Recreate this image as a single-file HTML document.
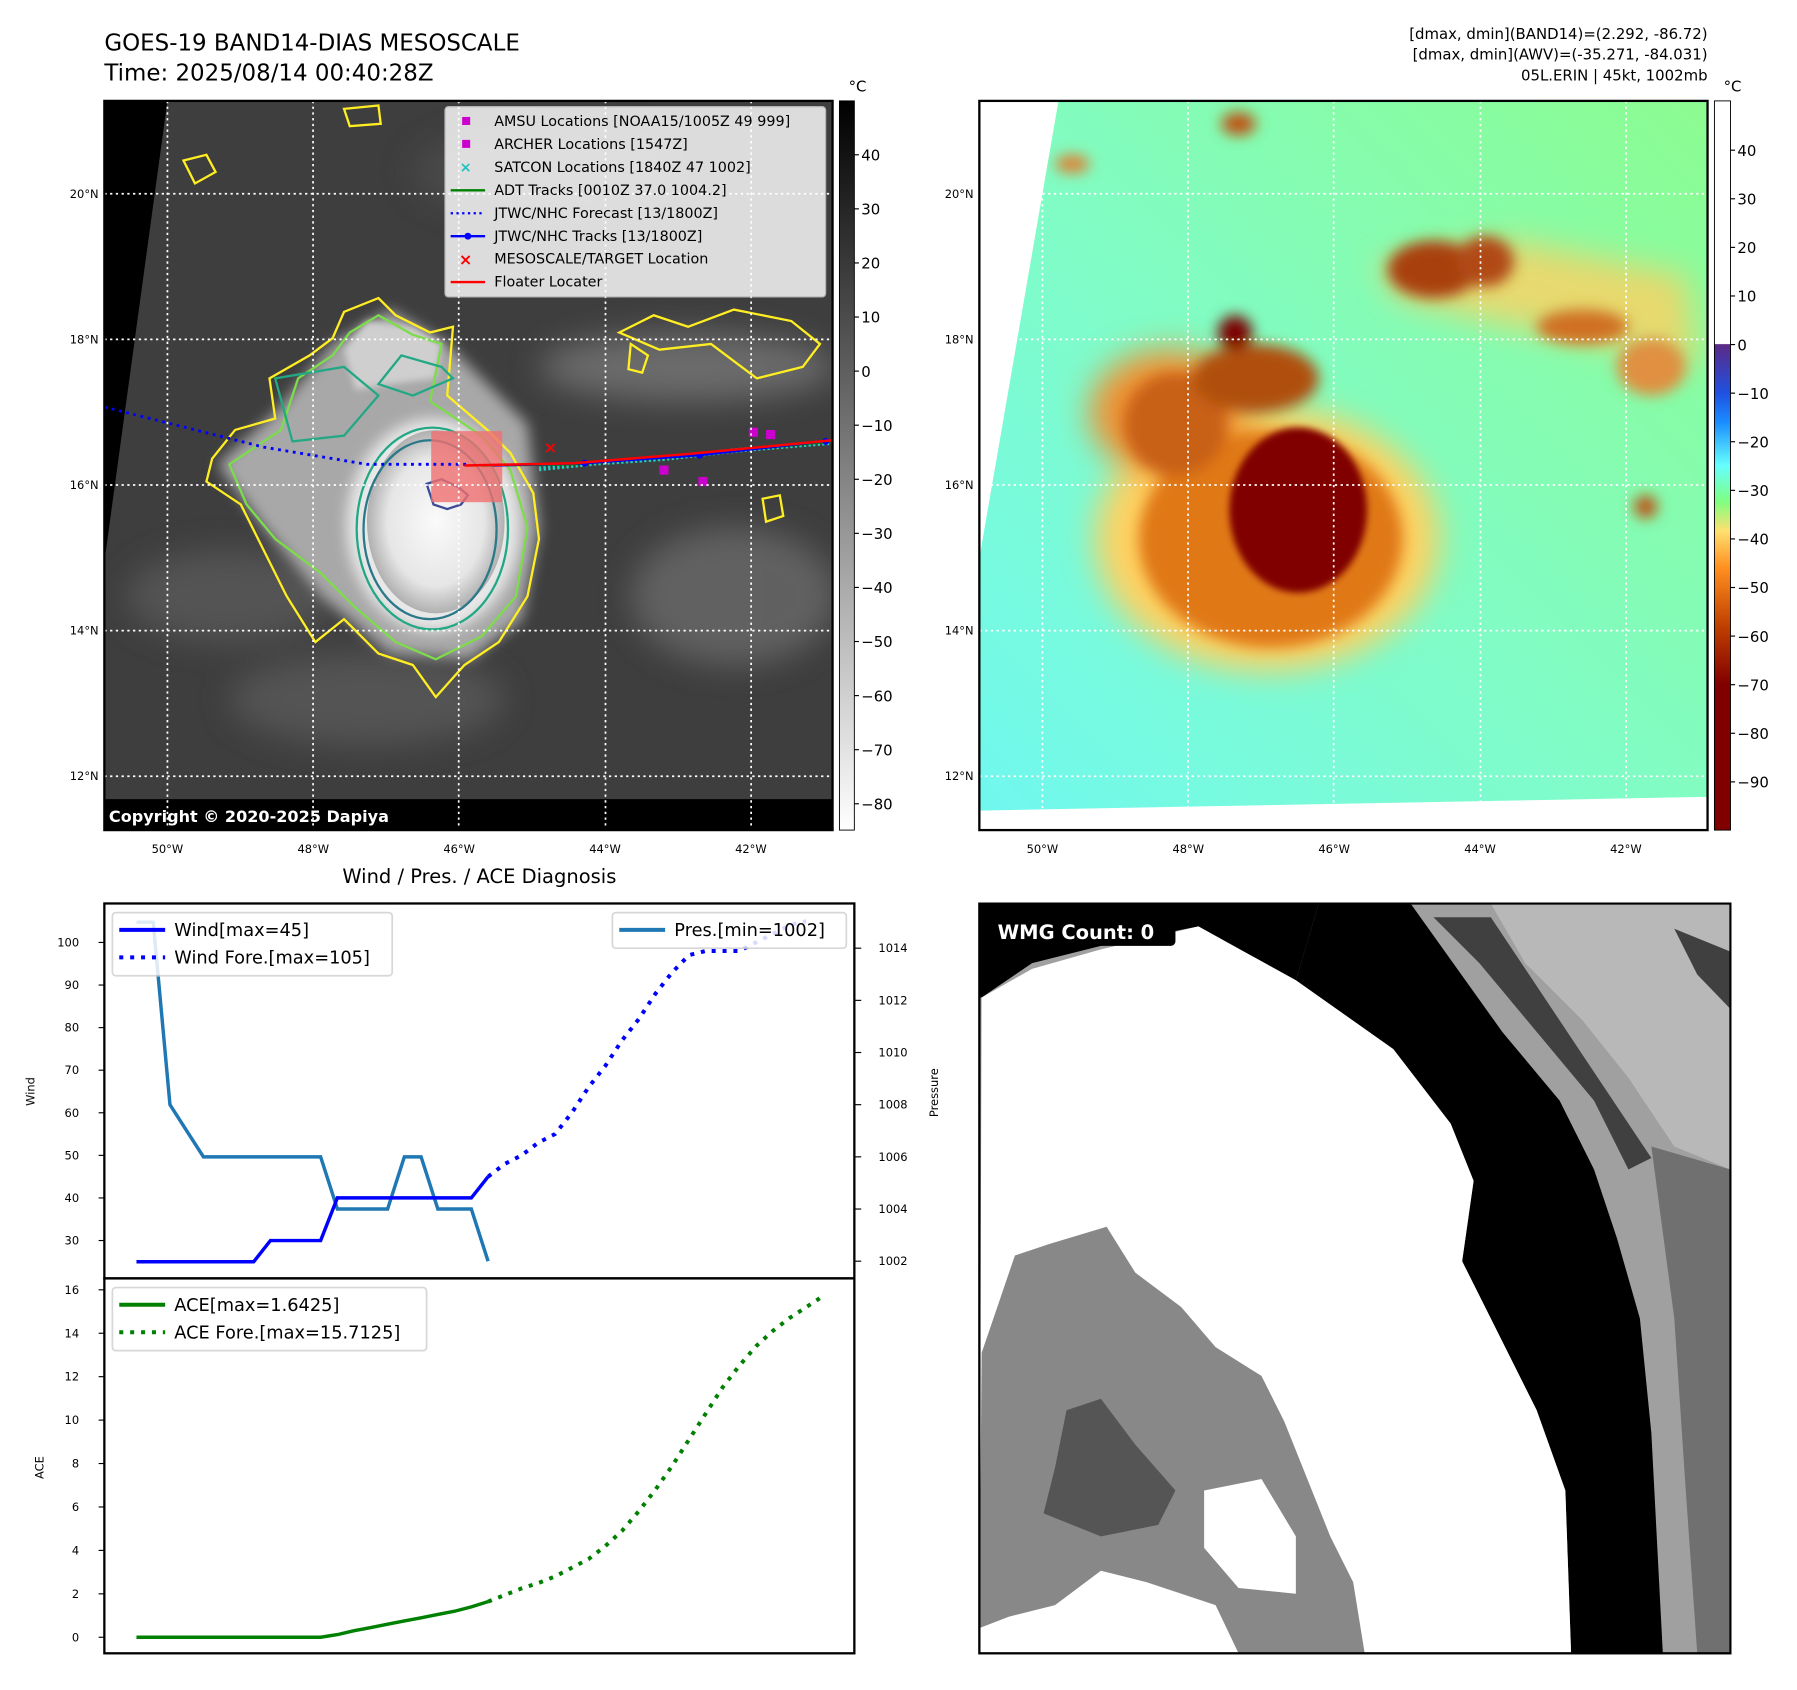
<!DOCTYPE html>
<html><head><meta charset="utf-8"><style>
html,body{margin:0;padding:0;background:#fff}
svg{display:block}
text{font-family:"DejaVu Sans","Liberation Sans",sans-serif}
</style></head><body>
<svg id="root" width="1797" height="1690" viewBox="0 0 1567 1474" preserveAspectRatio="none" xmlns="http://www.w3.org/2000/svg">
<defs>
<filter id="blur6"><feGaussianBlur stdDeviation="6"/></filter>
<filter id="blur14"><feGaussianBlur stdDeviation="14"/></filter>
<filter id="blur3"><feGaussianBlur stdDeviation="3"/></filter>
<radialGradient id="coreL" cx="0.5" cy="0.5" r="0.5"><stop offset="0" stop-color="#fafafa"/><stop offset="0.7" stop-color="#e6e6e6"/><stop offset="1" stop-color="#b0b0b0"/></radialGradient>
<linearGradient id="cbL" x1="0" y1="0" x2="0" y2="1"><stop offset="0" stop-color="#000"/><stop offset="1" stop-color="#fff"/></linearGradient>
<linearGradient id="cbR" x1="0" y1="0" x2="0" y2="1">
<stop offset="0" stop-color="#fff"/><stop offset="0.333" stop-color="#fff"/><stop offset="0.334" stop-color="#5b2a86"/>
<stop offset="0.40" stop-color="#2050e0"/><stop offset="0.44" stop-color="#1a8cff"/><stop offset="0.50" stop-color="#66ffff"/>
<stop offset="0.55" stop-color="#80ff80"/><stop offset="0.59" stop-color="#ffe070"/><stop offset="0.64" stop-color="#ff9020"/>
<stop offset="0.72" stop-color="#c04000"/><stop offset="0.80" stop-color="#800000"/><stop offset="1" stop-color="#800000"/></linearGradient>
<linearGradient id="bgR" x1="0" y1="1" x2="1" y2="0"><stop offset="0" stop-color="#70f8f0"/><stop offset="0.45" stop-color="#80fcc8"/><stop offset="1" stop-color="#8cfc90"/></linearGradient>
<clipPath id="clipL"><rect x="91" y="88" width="635" height="636"/></clipPath>
<clipPath id="clipR"><rect x="854" y="88" width="635" height="636"/></clipPath>
<clipPath id="clipW"><rect x="854" y="788" width="655" height="654"/></clipPath>
</defs>

<text x="91" y="44" font-size="20">GOES-19 BAND14-DIAS MESOSCALE</text>
<text x="91" y="70" font-size="20">Time: 2025/08/14 00:40:28Z</text>
<g font-size="13" text-anchor="end">
<text x="1489" y="34">[dmax, dmin](BAND14)=(2.292, -86.72)</text>
<text x="1489" y="52">[dmax, dmin](AWV)=(-35.271, -84.031)</text>
<text x="1489" y="70">05L.ERIN | 45kt, 1002mb</text>
</g>

<g clip-path="url(#clipL)">
<rect x="91" y="88" width="635" height="636" fill="#3e3e3e"/>
<g filter="url(#blur14)" opacity="0.8">
<ellipse cx="600" cy="320" rx="130" ry="30" fill="#777"/>
<ellipse cx="640" cy="520" rx="90" ry="60" fill="#6a6a6a"/>
<ellipse cx="200" cy="520" rx="90" ry="40" fill="#5a5a5a"/>
<ellipse cx="320" cy="610" rx="120" ry="40" fill="#5a5a5a"/>
<ellipse cx="480" cy="150" rx="120" ry="40" fill="#4e4e4e"/>
</g>
<g filter="url(#blur6)">
<path d="M190,405 L240,360 L290,300 L340,270 L390,300 L460,370 L470,460 L455,540 L410,575 L340,570 L280,520 L230,460 Z" fill="#a8a8a8"/>
<ellipse cx="378" cy="458" rx="75" ry="92" fill="#e8e8e8"/>
</g>
<ellipse cx="380" cy="455" rx="60" ry="80" fill="url(#coreL)"/>
<path d="M300,305 L320,280 L360,285 L385,300 L380,330 L340,335 L310,340 Z" fill="#cfcfcf" filter="url(#blur3)"/>
<g fill="none" stroke-width="2">
<path d="M185,400 L205,375 L240,365 L235,330 L270,310 L290,295 L300,272 L330,260 L345,275 L375,290 L395,285 L390,345 L425,375 L445,395 L465,430 L470,470 L460,520 L435,560 L405,580 L380,608 L360,580 L330,570 L300,540 L275,560 L250,520 L230,480 L210,440 L180,420 Z" stroke="#ffee22"/>
<path d="M200,405 L245,375 L260,330 L290,310 L305,290 L330,275 L360,292 L385,300 L375,350 L420,380 L445,410 L460,460 L450,520 L420,555 L380,575 L345,560 L310,530 L280,500 L240,470 L215,440 Z" stroke="#7ddc4a"/>
<ellipse cx="377" cy="461" rx="66" ry="88" stroke="#22a884"/>
<ellipse cx="375" cy="462" rx="58" ry="78" stroke="#2a7888"/>
<path d="M372,422 L385,418 L400,425 L408,432 L402,440 L390,444 L378,440 Z" stroke="#3b4b96"/>
<path d="M240,330 L300,320 L330,345 L300,380 L255,385 Z" stroke="#22a884"/>
<path d="M395,330 L360,345 L330,335 L350,310 L385,320 Z" stroke="#22a884"/>
<path d="M160,140 L180,135 L188,150 L170,160 Z" stroke="#ffee22"/>
<path d="M300,95 L330,92 L332,108 L305,110 Z" stroke="#ffee22"/>
<path d="M540,290 L570,275 L600,285 L640,270 L690,280 L715,300 L700,320 L660,330 L620,300 L575,305 Z" stroke="#ffee22"/>
<path d="M550,300 L565,310 L560,325 L548,322 Z" stroke="#ffee22"/>
<path d="M665,435 L680,432 L683,450 L668,455 Z" stroke="#ffee22"/>
</g>
<path d="M91,88 L146,88 L91,490 Z" fill="#000"/>
<rect x="91" y="697" width="635" height="27" fill="#000"/>
<rect x="376" y="376" width="62" height="62" fill="#f07070" opacity="0.8"/>
<path d="M91,355 L230,390 L320,405 L410,405" fill="none" stroke="#0000ff" stroke-width="2.5" stroke-dasharray="2.5,4"/>
<path d="M470,409 L520,404 L580,400 L640,393 L700,388 L726,386" fill="none" stroke="#20d0c0" stroke-width="4" stroke-dasharray="2,2"/>
<path d="M420,406 L500,405 L560,400 L620,395 L726,385" fill="none" stroke="#008000" stroke-width="2"/>
<path d="M430,406 L510,404 L610,397 L726,384" fill="none" stroke="#0000ff" stroke-width="2"/>
<circle cx="510" cy="404" r="3" fill="#0000ff"/><circle cx="610" cy="397" r="3" fill="#0000ff"/><circle cx="720" cy="385" r="3" fill="#0000ff"/>
<path d="M405,406 L500,404 L600,396 L726,384" fill="none" stroke="#ff0000" stroke-width="2.2"/>
<g fill="#cc00cc"><rect x="575" y="406" width="8" height="8"/><rect x="609" y="416" width="8" height="8"/><rect x="653" y="373" width="8" height="8"/><rect x="668" y="375" width="8" height="8"/></g>
<text x="480" y="395" font-size="14" fill="#ff0000" text-anchor="middle" font-weight="bold">×</text>
<g stroke="#fff" stroke-width="1.5" stroke-dasharray="2,3">
<line x1="146" y1="88" x2="146" y2="724"/><line x1="273" y1="88" x2="273" y2="724"/><line x1="400" y1="88" x2="400" y2="724"/><line x1="528" y1="88" x2="528" y2="724"/><line x1="655" y1="88" x2="655" y2="724"/>
<line x1="91" y1="169" x2="726" y2="169"/><line x1="91" y1="296" x2="726" y2="296"/><line x1="91" y1="423" x2="726" y2="423"/><line x1="91" y1="550" x2="726" y2="550"/><line x1="91" y1="677" x2="726" y2="677"/>
</g>
<text x="95" y="717" font-size="14" font-weight="bold" fill="#fff">Copyright © 2020-2025 Dapiya</text>
</g>
<rect x="91" y="88" width="635" height="636" fill="none" stroke="#000" stroke-width="2"/>

<g font-size="12.5">
<rect x="388" y="93" width="332" height="166" rx="3" fill="#fff" opacity="0.82" stroke="#ccc"/>
<rect x="403" y="102" width="7" height="7" fill="#cc00cc"/><text x="431" y="110">AMSU Locations [NOAA15/1005Z 49 999]</text>
<rect x="403" y="122" width="7" height="7" fill="#cc00cc"/><text x="431" y="130">ARCHER Locations [1547Z]</text>
<text x="406" y="150" fill="#20c0c0" text-anchor="middle" font-weight="bold">×</text><text x="431" y="150">SATCON Locations [1840Z 47 1002]</text>
<line x1="393" y1="166" x2="423" y2="166" stroke="#008000" stroke-width="2"/><text x="431" y="170">ADT Tracks [0010Z 37.0 1004.2]</text>
<line x1="393" y1="186" x2="423" y2="186" stroke="#0000ff" stroke-width="2" stroke-dasharray="2,3"/><text x="431" y="190">JTWC/NHC Forecast [13/1800Z]</text>
<line x1="393" y1="206" x2="423" y2="206" stroke="#0000ff" stroke-width="2"/><circle cx="408" cy="206" r="3" fill="#0000ff"/><text x="431" y="210">JTWC/NHC Tracks [13/1800Z]</text>
<text x="406" y="231" fill="#ff0000" text-anchor="middle" font-weight="bold" font-size="14">×</text><text x="431" y="230">MESOSCALE/TARGET Location</text>
<line x1="393" y1="246" x2="423" y2="246" stroke="#ff0000" stroke-width="2"/><text x="431" y="250">Floater Locater</text>
</g>

<g>
<rect x="732" y="88" width="13" height="636" fill="url(#cbL)" stroke="#000" stroke-width="0.8"/>
<text x="740" y="80" font-size="13">°C</text>
<g font-size="13" id="cbLticks"></g>
</g>

<g clip-path="url(#clipR)">
<rect x="854" y="88" width="635" height="636" fill="url(#bgR)"/>
<g filter="url(#blur14)">
<ellipse cx="1105" cy="470" rx="150" ry="115" fill="#ffd060"/>
<path d="M1200,230 L1320,210 L1470,240 L1480,320 L1400,300 L1300,280 L1220,260 Z" fill="#ffd060" opacity="0.8"/>
<ellipse cx="1020" cy="360" rx="70" ry="55" fill="#f09030"/>
</g>
<g filter="url(#blur6)">
<ellipse cx="1108" cy="470" rx="115" ry="95" fill="#e07818"/>
<ellipse cx="1025" cy="370" rx="45" ry="45" fill="#c86018"/>
<ellipse cx="1095" cy="330" rx="55" ry="30" fill="#b05010"/>
<ellipse cx="1250" cy="235" rx="40" ry="25" fill="#a84010"/>
<ellipse cx="1295" cy="228" rx="25" ry="22" fill="#b04818"/>
<ellipse cx="1380" cy="285" rx="40" ry="15" fill="#d07020"/>
<ellipse cx="1440" cy="320" rx="30" ry="25" fill="#e09040"/>
<ellipse cx="1077" cy="290" rx="15" ry="15" fill="#7a0000"/>
<ellipse cx="1435" cy="442" rx="10" ry="10" fill="#c05010"/>
<ellipse cx="1080" cy="108" rx="15" ry="10" fill="#c05010"/>
<ellipse cx="935" cy="143" rx="15" ry="8" fill="#e08030"/>
</g>
<ellipse cx="1132" cy="445" rx="60" ry="72" fill="#800000" filter="url(#blur3)"/>
<path d="M854,88 L923,88 L854,487 Z" fill="#fff"/>
<path d="M854,707 L1489,695 L1489,724 L854,724 Z" fill="#fff"/>
<g stroke="#fff" stroke-width="1.5" stroke-dasharray="2,3">
<line x1="909" y1="88" x2="909" y2="724"/><line x1="1036" y1="88" x2="1036" y2="724"/><line x1="1163" y1="88" x2="1163" y2="724"/><line x1="1291" y1="88" x2="1291" y2="724"/><line x1="1418" y1="88" x2="1418" y2="724"/>
<line x1="854" y1="169" x2="1489" y2="169"/><line x1="854" y1="296" x2="1489" y2="296"/><line x1="854" y1="423" x2="1489" y2="423"/><line x1="854" y1="550" x2="1489" y2="550"/><line x1="854" y1="677" x2="1489" y2="677"/>
</g>
</g>
<rect x="854" y="88" width="635" height="636" fill="none" stroke="#000" stroke-width="2"/>
<g>
<rect x="1495" y="88" width="14" height="636" fill="url(#cbR)" stroke="#000" stroke-width="0.8"/>
<text x="1503" y="80" font-size="13">°C</text>
<g font-size="13" id="cbRticks"></g>
</g>

<g font-size="10" id="mapLabels"></g>

<text x="418" y="770" font-size="17" text-anchor="middle">Wind / Pres. / ACE Diagnosis</text>
<g id="chart"></g>

<g clip-path="url(#clipW)">
<rect x="854" y="788" width="655" height="654" fill="#a0a0a0"/>
<path d="M1300,788 L1509,788 L1509,1020 L1460,1000 L1420,940 L1380,890 L1330,840 Z" fill="#b8b8b8"/>
<path d="M1250,800 L1300,800 L1340,860 L1380,920 L1420,980 L1440,1010 L1420,1020 L1390,960 L1340,900 L1290,840 Z" fill="#404040"/>
<path d="M1460,810 L1509,830 L1509,880 L1480,850 Z" fill="#404040"/>
<path d="M1440,1000 L1509,1020 L1509,1442 L1480,1442 L1470,1300 L1460,1150 Z" fill="#707070"/>
<path d="M1150,788 L1230,788 L1260,830 L1310,900 L1360,960 L1390,1020 L1410,1080 L1430,1150 L1440,1250 L1450,1442 L1370,1442 L1365,1300 L1340,1230 L1300,1150 L1275,1100 L1285,1030 L1265,980 L1215,915 L1130,855 Z" fill="#000"/>
<path d="M854,788 L1150,788 L1130,855 L1045,808 L960,825 L900,840 L856,870 L854,870 Z" fill="#000"/>
<path d="M856,870 L900,845 L960,828 L1045,808 L1130,855 L1215,915 L1265,980 L1285,1030 L1275,1100 L1300,1150 L1340,1230 L1365,1300 L1370,1442 L854,1442 Z" fill="#fff"/>
<path d="M856,1180 L885,1095 L915,1085 L965,1070 L990,1110 L1030,1140 L1060,1175 L1100,1200 L1120,1240 L1140,1290 L1160,1340 L1180,1380 L1190,1442 L1080,1442 L1060,1400 L1000,1380 L960,1370 L920,1400 L880,1410 L854,1420 Z" fill="#888"/>
<path d="M930,1230 L960,1220 L990,1260 L1025,1300 L1010,1330 L960,1340 L910,1320 L920,1280 Z" fill="#555"/>
<path d="M1050,1300 L1100,1290 L1130,1340 L1130,1390 L1080,1385 L1050,1350 Z" fill="#fff"/>
<rect x="860" y="795" width="165" height="30" rx="4" fill="#000"/>
<text x="870" y="819" font-size="17" font-weight="bold" fill="#fff">WMG Count: 0</text>
</g>
<rect x="854" y="788" width="655" height="654" fill="none" stroke="#000" stroke-width="2"/>
</svg>

<script>
const steps = [0,1,2,3,4,5,6,7,8,9,10,11,12,13,14,15,16,17,18,19,20,21];
const wind = [25,25,25,25,25,25,25,25,30,30,30,30,40,40,40,40,40,40,40,40,40,45];
const pres = [1015,1015,1008,1007,1006,1006,1006,1006,1006,1006,1006,1006,1004,1004,1004,1004,1006,1006,1004,1004,1004,1002];
const ace = [0,0,0,0,0,0,0,0,0,0,0,0,0.12,0.3,0.45,0.6,0.75,0.9,1.05,1.2,1.4,1.64];
const foreSteps = [21,22,23,24,25,26,27,28,29,30,31,32,33,34,35,36,37,38,39,40];
const windFore = [45,48,50,53,55,60,66,71,77,82,88,93,97,98,98,98,100,102,104,105];
const aceSteps = [21,22,23,24,25,26,27,28,29,30,31,32,33,34,35,36,37,38,39,40,41];
const aceFore = [1.64,1.95,2.25,2.5,2.8,3.2,3.6,4.2,4.9,5.8,6.8,7.9,9.1,10.3,11.5,12.5,13.4,14.1,14.7,15.2,15.71];
const windTicks = [30,40,50,60,70,80,90,100];
const presTicks = [1002,1004,1006,1008,1010,1012,1014];
const aceTicks = [0,2,4,6,8,10,12,14,16];
const cbLTicks = [40,30,20,10,0,-10,-20,-30,-40,-50,-60,-70,-80];
const cbRTicks = [40,30,20,10,0,-10,-20,-30,-40,-50,-60,-70,-80,-90];
const latTicks = [20,18,16,14,12];
const lonTicks = [50,48,46,44,42];

const NS='http://www.w3.org/2000/svg';
function mk(tag,attrs,parent,txt){const e=document.createElementNS(NS,tag);for(const k in attrs)e.setAttribute(k,attrs[k]);if(txt!==undefined)e.textContent=txt;parent.appendChild(e);return e;}
const xS=i=>119+i*14.6;
const yW=w=>822+(100-w)*3.714;
const yP=p=>1100-(p-1002)*22.75;
const yA=a=>1428-a*18.94;
const chart=document.getElementById('chart');

let f=mk('rect',{x:91,y:788,width:654,height:327,fill:'none',stroke:'#000','stroke-width':2},chart);


f=mk('rect',{x:91,y:1115,width:654,height:327,fill:'none',stroke:'#000','stroke-width':2},chart);



windTicks.forEach(v=>{const y=yW(v);mk('line',{x1:86,y1:y,x2:91,y2:y,stroke:'#000'},chart);
 const t=mk('text',{x:69,y:y+3.5,'font-size':10,'text-anchor':'end'},chart,v);
 
 });
presTicks.forEach(v=>{const y=yP(v);mk('line',{x1:745,y1:y,x2:751,y2:y,stroke:'#000'},chart);
 const t=mk('text',{x:766,y:y+3.5,'font-size':10},chart,v);
 
 });
aceTicks.forEach(v=>{const y=yA(v);mk('line',{x1:86,y1:y,x2:91,y2:y,stroke:'#000'},chart);
 const t=mk('text',{x:69,y:y+3.5,'font-size':10,'text-anchor':'end'},chart,v);
 
 });
let t=mk('text',{x:30,y:952,'font-size':10,'text-anchor':'middle',transform:'rotate(-90 30 952)'},chart,'Wind');


t=mk('text',{x:818,y:953,'font-size':10,'text-anchor':'middle',transform:'rotate(-90 818 953)'},chart,'Pressure');


t=mk('text',{x:38,y:1280,'font-size':10,'text-anchor':'middle',transform:'rotate(-90 38 1280)'},chart,'ACE');



function pts(xs,ys,fy){return xs.map((s,i)=>xS(s).toFixed(1)+','+fy(ys[i]).toFixed(1)).join(' ');}
let l=mk('polyline',{points:pts(steps,pres,yP),fill:'none',stroke:'#1f77b4','stroke-width':3},chart);


l=mk('polyline',{points:pts(steps,wind,yW),fill:'none',stroke:'#0000ff','stroke-width':3},chart);


l=mk('polyline',{points:pts(foreSteps,windFore,yW),fill:'none',stroke:'#0000ff','stroke-width':3.5,'stroke-dasharray':'3.5,6'},chart);


l=mk('polyline',{points:pts(steps,ace,yA),fill:'none',stroke:'#008000','stroke-width':3},chart);


l=mk('polyline',{points:pts(aceSteps,aceFore,yA),fill:'none',stroke:'#008000','stroke-width':3.5,'stroke-dasharray':'3.5,6'},chart);



function legend(x,y,w,h,items,name){const g=mk('g',{},chart);
 
 
 mk('rect',{x:x,y:y,width:w,height:h,rx:3,fill:'#fff',opacity:0.85,stroke:'#d0d0d0','stroke-width':1.5},g);
 items.forEach((it,i)=>{const yy=y+15+i*24;mk('line',{x1:x+6,y1:yy,x2:x+46,y2:yy,stroke:it[1],'stroke-width':3.5,'stroke-dasharray':it[2]?'3.5,6':''},g);
 mk('text',{x:x+54,y:yy+5.5,'font-size':15.5},g,it[0]);});}
legend(98,796,244,55,[['Wind[max=45]','#0000ff',0],['Wind Fore.[max=105]','#0000ff',1]],'wind-legend');
legend(534,796,204,31,[['Pres.[min=1002]','#1f77b4',0]],'pressure-legend');
legend(98,1123,274,55,[['ACE[max=1.6425]','#008000',0],['ACE Fore.[max=15.7125]','#008000',1]],'ace-legend');

const gL=document.getElementById('cbLticks');
cbLTicks.forEach(v=>{const y=135+(40-v)*4.717;mk('line',{x1:745,y1:y,x2:749,y2:y,stroke:'#000'},gL);
 const e=mk('text',{x:751,y:y+5},gL,v<0?'\u2212'+(-v):v);
 
 });
const gR=document.getElementById('cbRticks');
cbRTicks.forEach(v=>{const y=131+(40-v)*4.238;mk('line',{x1:1509,y1:y,x2:1513,y2:y,stroke:'#000'},gR);
 const e=mk('text',{x:1515,y:y+5},gR,v<0?'\u2212'+(-v):v);
 
 });
const gM=document.getElementById('mapLabels');
latTicks.forEach(v=>{const y=423-(v-16)*63.5+3.5;
 [86,849].forEach(x=>{const e=mk('text',{x:x,y:y,'text-anchor':'end'},gM,v+'°N');
 
 });});
lonTicks.forEach(v=>{const dx=(50-v)*63.6;
 [146,909].forEach(x0=>{const e=mk('text',{x:x0+dx,y:744,'text-anchor':'middle'},gM,v+'°W');
 
 });});
</script>
</body></html>
